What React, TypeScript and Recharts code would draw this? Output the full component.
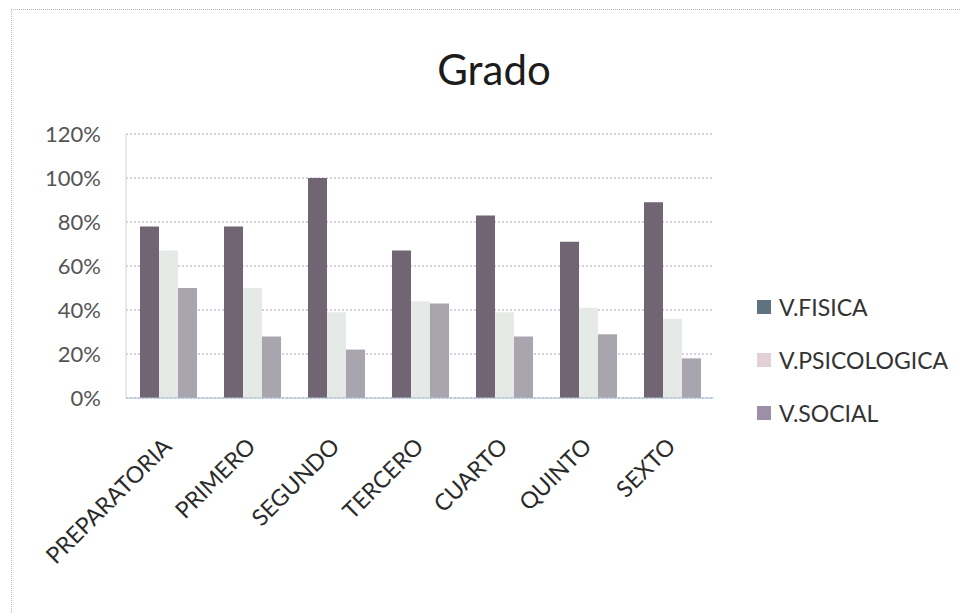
import { BarChart, Bar, XAxis, YAxis, CartesianGrid } from "recharts";

const grados = ["PREPARATORIA", "PRIMERO", "SEGUNDO", "TERCERO", "CUARTO", "QUINTO", "SEXTO"];
const fisica = [78, 78, 100, 67, 83, 71, 89];
const psicologica = [67, 50, 39, 44, 39, 41, 36];
const social = [50, 28, 22, 43, 28, 29, 18];
const yTicks = [0, 20, 40, 60, 80, 100, 120];

const series = [
  { key: "fisica", name: "V.FISICA", fill: "#716574", swatch: "#5f7282" },
  { key: "psicologica", name: "V.PSICOLOGICA", fill: "#e5eae7", swatch: "#e3d0d9" },
  { key: "social", name: "V.SOCIAL", fill: "#a9a5ae", swatch: "#9e8fa8" },
];

const data = grados.map((g, i) => ({
  grado: g,
  fisica: fisica[i],
  psicologica: psicologica[i],
  social: social[i],
}));

const font = "Lato, 'Open Sans', sans-serif";

const GradoTick = (props: any) => {
  const { x, y, payload } = props;
  return (
    <g transform={`translate(${x + 5},${y + 42})`}>
      <text
        textAnchor="end"
        transform="rotate(-45)"
        fill="#2a2a2a"
        fontSize={23}
        fontFamily={font}
      >
        {payload.value}
      </text>
    </g>
  );
};

export default function App() {
  return (
    <div
      style={{
        position: "absolute",
        left: 0,
        top: 0,
        width: 960,
        height: 613,
        background: "#fff",
        fontFamily: font,
      }}
    >
      {/* marco del gráfico */}
      <div
        style={{
          position: "absolute",
          left: 11,
          top: 9,
          right: 0,
          bottom: 0,
          borderLeft: "1px dotted #b8b8b8",
          borderTop: "1px dotted #c8b8a8",
        }}
      />
      <div
        style={{
          position: "absolute",
          left: 0,
          width: 988,
          top: 44,
          textAlign: "center",
          fontSize: 42,
          color: "#1c1c1c",
          lineHeight: "50px",
        }}
      >
        Grado
      </div>
      <BarChart
        width={960}
        height={613}
        data={data}
        margin={{ top: 134, right: 246, bottom: 0, left: 0 }}
        barGap={0}
        barSize={19}
        style={{ position: "absolute", left: 0, top: 0 }}
      >
        <CartesianGrid
          vertical={false}
          stroke="#b39cc6"
          strokeDasharray="2 2"
        />
        <XAxis
          dataKey="grado"
          height={215}
          interval={0}
          tickLine={false}
          axisLine={{ stroke: "#a9c2d2" }}
          tick={<GradoTick />}
        />
        <YAxis
          width={126}
          domain={[0, 120]}
          ticks={yTicks}
          tickFormatter={(v: number) => `${v}%`}
          tickLine={false}
          tickMargin={19}
          axisLine={{ stroke: "#d4d4d4" }}
          tick={{ fill: "#555", fontSize: 22, fontFamily: font }}
        />
        {series.map((s) => (
          <Bar
            key={s.key}
            dataKey={s.key}
            name={s.name}
            fill={s.fill}
            isAnimationActive={false}
          />
        ))}
      </BarChart>
      {series.map((s, i) => (
        <div
          key={s.key}
          style={{
            position: "absolute",
            left: 757,
            top: 293 + i * 53,
            height: 28,
            display: "flex",
            alignItems: "center",
            fontSize: 23,
            color: "#333",
          }}
        >
          <span
            style={{
              display: "inline-block",
              width: 14,
              height: 14,
              background: s.swatch,
              marginRight: 8,
            }}
          />
          {s.name}
        </div>
      ))}
    </div>
  );
}
